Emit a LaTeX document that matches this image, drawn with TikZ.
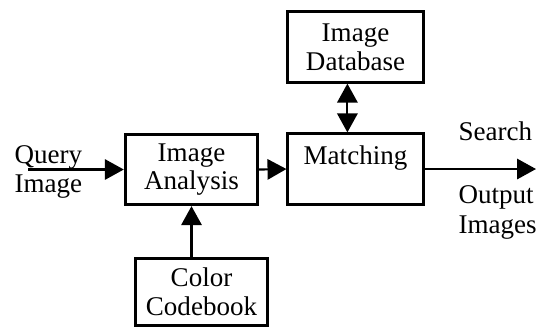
\documentclass[tikz,border=0pt]{standalone}
\usepackage{fontspec}
\setmainfont{Liberation Serif}
\usetikzlibrary{arrows.meta}

\begin{document}
\begin{tikzpicture}[x = 0.37pt, y = -0.37pt]
\tikzstyle{BoxStyle}=[shape = rectangle,
							draw,
							line width = 1.1pt,
							inner sep = 0pt,
							align = center,
                         					font = \fontsize{10}{10.6}\selectfont]
\tikzstyle{LabelStyle}=[inner sep = 0pt, anchor = base west, font = \fontsize{10}{11}\selectfont]
\tikzstyle{ArrowStyle}=[line width = 0.8pt, -{Triangle[length = 7pt, width = 7.5pt]}]
\useasboundingbox (0, 0) rectangle (538, 328);
\node[BoxStyle, minimum width = 49pt, minimum height = 26pt] (analysis) at (191.5, 169.5) {Image\\Analysis};
\node[BoxStyle, minimum width = 50pt, minimum height = 26pt] (matching) at (355.5, 169) {Matching\\\mbox{}};
\node[BoxStyle, minimum width = 50pt, minimum height = 26pt] (database) at (355.5, 47) {Image\\Database};
\node[BoxStyle, minimum width = 49pt, minimum height = 25pt] (codebook) at (201.5, 292) {Color\\Codebook};
\node[LabelStyle] (query) at (14, 163) {Query};
\node[LabelStyle] (queryimg) at (14, 192) {Image};
\node[LabelStyle] (search) at (458, 140) {Search};
\node[LabelStyle] (output) at (458, 203) {Output};
\node[LabelStyle] (outimg) at (458, 233) {Images};
\coordinate (qstart) at (28, 169.5);
\coordinate (qend) at (536, 169);
\draw[ArrowStyle] (qstart) -- (analysis.west);
\draw[ArrowStyle] (analysis.east) -- (matching.west);
\draw[ArrowStyle] (matching.east) -- (qend);
\draw[ArrowStyle] (codebook.north -| analysis.south) -- (analysis.south);
\draw[ArrowStyle, {Triangle[length = 7pt, width = 7.5pt]}-{Triangle[length = 7pt, width = 7.5pt]}] ([xshift = -3pt]database.south) -- ([xshift = -3pt]matching.north);
\end{tikzpicture}
\end{document}
